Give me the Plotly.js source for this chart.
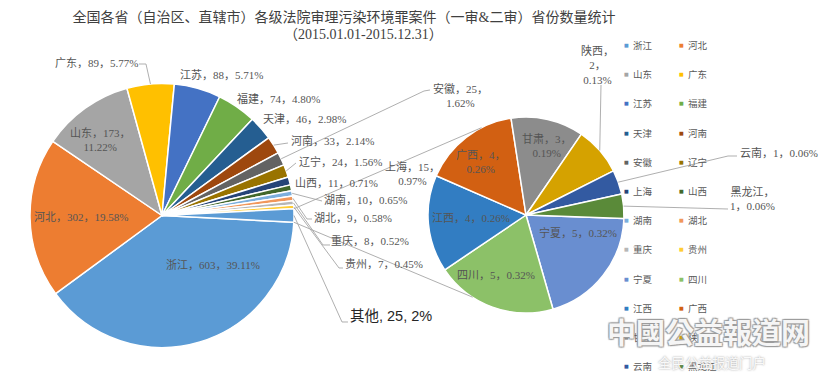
<!DOCTYPE html>
<html>
<head>
<meta charset="utf-8">
<script src="https://cdn.plot.ly/plotly-3.0.1.min.js"></script>
<style>
html,body{margin:0;padding:0;background:#ffffff;}
#chart{width:824px;height:381px;}
</style>
</head>
<body>
<div id="chart"></div>
<script>
// ---------------- data ----------------
const mainLabels = ['浙江','河北','山东','广东','江苏','福建','天津','河南','安徽','辽宁','上海','山西','湖南','湖北','重庆','贵州','其他'];
const mainValues = [603,302,173,89,88,74,46,33,25,24,15,11,10,9,8,7,25];
const mainColors = ['#5B9BD5','#ED7D31','#A5A5A5','#FFC000','#4472C4','#70AD47','#255E91','#9E480E','#636363','#997300','#264478','#43682B','#7CAFDD','#F1975A','#B7B7B7','#FFCD33','#5B9BD5'];

const subLabels = ['宁夏','四川','江西','广西','甘肃','陕西','云南','黑龙江'];
const subValues = [5,5,4,4,3,2,1,1];
const subColors = ['#698ED0','#8CC168','#327DC2','#D26012','#8C8C8C','#D5A200','#335AA1','#5A8A39'];

const otherName = '其他';
const titleLine1 = '全国各省（自治区、直辖市）各级法院审理污染环境罪案件（一审&二审）省份数量统计';
const titleLine2 = '（2015.01.01-2015.12.31）';
const watermark1 = '中國公益報道网';
const watermark2 = '全民公益报道门户';

// ---------------- geometry (pixels) ----------------
const W = 824, H = 381;
const X = x => x / W;
const Y = y => 1 - y / H;
const MAIN = {cx:162, cy:215.5, r:132};
const SUB  = {cx:526, cy:215, r:98};

const grandTotal = mainValues.reduce((a,b)=>a+b,0);
const otherValue = mainValues[mainLabels.indexOf(otherName)];
const mainRotation = 90 + otherValue / grandTotal * 180;   // "其他" centred at 3 o'clock
const subRotation = 92;

function midAngle(values, rot, idx) {
  const tot = values.reduce((a,b)=>a+b,0);
  let a = rot;
  for (let i = 0; i < idx; i++) a += values[i] / tot * 360;
  return a + values[idx] / tot * 180;
}
function polar(p, deg, dr) {
  const t = deg * Math.PI / 180, r = p.r + (dr || 0);
  return [p.cx + r * Math.sin(t), p.cy - r * Math.cos(t)];
}

// ---------------- label placement (pixels) ----------------
// [centre x, centre y, line style, leader elbow points (label side first)]
const mainLabelLayout = {
  '浙江':[213,265,'one',null],
  '河北':[81,217,'one',null],
  '山东':[100,139.5,'two',null],
  '广东':[96,63,'one',[[139,64],[146,64]]],
  '江苏':[221,75,'one',null],
  '福建':[278,98,'one',null],
  '天津':[304,119,'one',null],
  '河南':[332,141,'one',[[288,143]]],
  '安徽':[460,95,'two',[[430,90],[424,91]]],
  '辽宁':[340,161,'one',[[296,163]]],
  '上海':[412,173,'two',null],
  '山西':[336,183,'one',null],
  '湖南':[365,200,'one',[[322,201]]],
  '湖北':[353,218,'one',[[312,219],[307,219]]],
  '重庆':[370,241,'one',[[330,245],[323,245]]],
  '贵州':[384,264,'one',[[343,268],[339,268]]],
  '其他':[391,316,'other',[[348,322],[342,322]]]
};
const subLabelLayout = {
  '宁夏':[578,233,'one',null],
  '四川':[496,275,'one',null],
  '江西':[471,218,'one',null],
  '广西':[481,162,'two',null],
  '甘肃':[547,145.5,'two',null],
  '陕西':[597,65,'three',[[601,85]]],
  '云南':[779,153,'one',[[737,156],[728,156]]],
  '黑龙江':[752,199,'two2',[[728,209]]]
};

function pct(v){ return (v / grandTotal * 100).toFixed(2); }
function labelText(name, v, style) {
  const p = pct(v);
  if (style === 'other') return `${name}, ${v}, ${Math.round(v / grandTotal * 100)}%`;
  if (style === 'two') return `${name}，${v}，<br>${p}%`;
  if (style === 'three') return `${name}，<br>${v}，<br>${p}%`;
  if (style === 'two2') return `${name}，<br>${v}，${p}%`;
  return `${name}，${v}，${p}%`;
}

const labelFont = {family:'Liberation Serif, Noto Sans CJK SC, serif', size:11, color:'#555555'};
const otherFont = {family:'Liberation Sans, Noto Sans CJK SC, sans-serif', size:14.5, color:'#262626'};
const leaderColor = '#A6A6A6';

const annotations = [];
const shapes = [];

function addLabels(labels, values, layoutMap, geom, rot) {
  labels.forEach((name, i) => {
    const L = layoutMap[name];
    if (!L) return;
    annotations.push({
      x: X(L[0]), y: Y(L[1]), xref:'paper', yref:'paper',
      xanchor:'center', yanchor:'middle', showarrow:false, align:'center',
      text: labelText(name, values[i], L[2]),
      font: L[2] === 'other' ? otherFont : labelFont
    });
    if (L[3]) {
      const end = polar(geom, midAngle(values, rot, i), 0);
      const pts = L[3].concat([end]);
      const path = 'M ' + pts.map(p => X(p[0]).toFixed(5) + ',' + Y(p[1]).toFixed(5)).join(' L ');
      shapes.push({type:'path', xref:'paper', yref:'paper', path:path,
        line:{color:leaderColor, width:0.9}});
    }
  });
}
addLabels(mainLabels, mainValues, mainLabelLayout, MAIN, mainRotation);
addLabels(subLabels, subValues, subLabelLayout, SUB, subRotation);

// series lines between the "其他" slice and the secondary pie
const otherIdx = mainLabels.indexOf(otherName);
const otherMid = midAngle(mainValues, mainRotation, otherIdx);
const otherHalf = otherValue / grandTotal * 180;
const topStart = polar(MAIN, otherMid - otherHalf), botStart = polar(MAIN, otherMid + otherHalf);
const topEnd = polar(SUB, 333), botEnd = polar(SUB, 213);
[[topStart, topEnd],[botStart, botEnd]].forEach(s => {
  shapes.push({type:'line', xref:'paper', yref:'paper',
    x0:X(s[0][0]), y0:Y(s[0][1]), x1:X(s[1][0]), y1:Y(s[1][1]),
    line:{color:leaderColor, width:0.9}});
});

// ---------------- legend (two columns) ----------------
const legendNames = mainLabels.filter(n => n !== otherName).concat(subLabels);
const legendColors = mainColors.filter((c, i) => mainLabels[i] !== otherName).concat(subColors);
const legendFont = {family:'Noto Sans CJK SC, sans-serif', size:9.5, color:'#595959'};
legendNames.forEach((name, i) => {
  const col = i % 2, row = Math.floor(i / 2);
  const mx = col === 0 ? 626 : 681;
  const yy = 45 + row * 29.2;
  annotations.push({x:X(mx), y:Y(yy), xref:'paper', yref:'paper', xanchor:'center', yanchor:'middle',
    showarrow:false, text:'■', font:{family:'DejaVu Sans', size:5, color:legendColors[i]}});
  annotations.push({x:X(mx + 5), y:Y(yy), xref:'paper', yref:'paper', xanchor:'left', yanchor:'middle',
    showarrow:false, text:name, font:legendFont});
});

// ---------------- title ----------------
annotations.push({x:X(363), y:Y(35), xref:'paper', yref:'paper', xanchor:'center', yanchor:'middle',
  showarrow:false, text:titleLine2,
  font:{family:'Liberation Serif, Noto Sans CJK SC, serif', size:14, color:'#404040'}});

// ---------------- watermark ----------------
annotations.push({x:X(708), y:Y(331), xref:'paper', yref:'paper', xanchor:'center', yanchor:'middle',
  showarrow:false, text:watermark1,
  font:{family:'Noto Sans CJK TC, sans-serif', size:29, weight:700, color:'rgba(255,255,255,0.92)',
        shadow:'1px 1px 1px #9a9a9a, -1px -1px 1px #9a9a9a, 1px -1px 1px #9a9a9a, -1px 1px 1px #9a9a9a'}});
annotations.push({x:X(712), y:Y(362), xref:'paper', yref:'paper', xanchor:'center', yanchor:'middle',
  showarrow:false, text:watermark2,
  font:{family:'Noto Sans CJK SC, sans-serif', size:13.5, color:'rgba(255,255,255,0.92)',
        shadow:'0px 0px 2px #8a8a8a'}});

// ---------------- traces ----------------
const traces = [
  {type:'pie', name:'主图', labels:mainLabels, values:mainValues, sort:false, direction:'clockwise',
   rotation:mainRotation, textinfo:'none', hoverinfo:'label+value+percent',
   marker:{colors:mainColors, line:{color:'#ffffff', width:1.5}},
   domain:{x:[X(MAIN.cx-MAIN.r), X(MAIN.cx+MAIN.r)], y:[Y(MAIN.cy+MAIN.r), Y(MAIN.cy-MAIN.r)]},
   showlegend:false},
  {type:'pie', name:'其他', labels:subLabels, values:subValues, sort:false, direction:'clockwise',
   rotation:subRotation, textinfo:'none', hoverinfo:'label+value',
   marker:{colors:subColors, line:{color:'#ffffff', width:1.5}},
   domain:{x:[X(SUB.cx-SUB.r), X(SUB.cx+SUB.r)], y:[Y(SUB.cy+SUB.r), Y(SUB.cy-SUB.r)]},
   showlegend:false}
];

const layout = {
  width:W, height:H,
  margin:{l:0, r:0, t:0, b:0},
  paper_bgcolor:'#ffffff', plot_bgcolor:'#ffffff',
  showlegend:false,
  title:{text:titleLine1, x:X(344), xanchor:'center', xref:'paper', y:Y(17), yref:'paper', yanchor:'middle',
         font:{family:'Liberation Serif, Noto Sans CJK SC, serif', size:14, color:'#404040'}},
  annotations:annotations,
  shapes:shapes
};

Plotly.newPlot('chart', traces, layout, {displayModeBar:false, staticPlot:true});
</script>
</body>
</html>
